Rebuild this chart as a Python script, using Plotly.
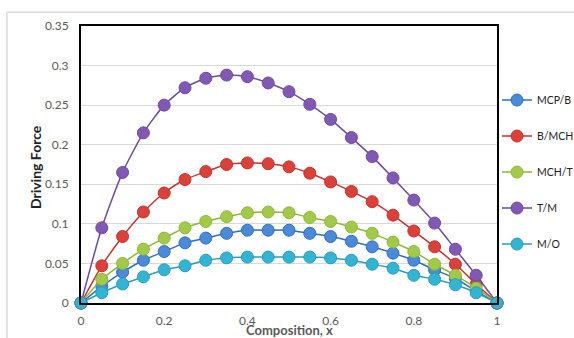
import plotly.graph_objects as go

composition = [0, 0.05, 0.1, 0.15, 0.2, 0.25, 0.3, 0.35, 0.4, 0.45, 0.5,
               0.55, 0.6, 0.65, 0.7, 0.75, 0.8, 0.85, 0.9, 0.95, 1.0]

mcp_b = [0, 0.021, 0.039, 0.054, 0.065, 0.076, 0.082, 0.088, 0.092, 0.092, 0.092,
         0.088, 0.084, 0.078, 0.071, 0.063, 0.054, 0.042, 0.031, 0.015, 0]
b_mch = [0, 0.047, 0.084, 0.115, 0.139, 0.156, 0.166, 0.175, 0.177, 0.176, 0.172,
         0.164, 0.153, 0.141, 0.128, 0.111, 0.091, 0.071, 0.049, 0.024, 0]
mch_t = [0, 0.030, 0.050, 0.068, 0.082, 0.095, 0.103, 0.109, 0.114, 0.115, 0.114,
         0.108, 0.103, 0.096, 0.088, 0.077, 0.065, 0.049, 0.035, 0.019, 0]
t_m = [0, 0.095, 0.165, 0.215, 0.250, 0.272, 0.284, 0.288, 0.286, 0.278, 0.267,
       0.251, 0.232, 0.209, 0.185, 0.158, 0.130, 0.101, 0.068, 0.035, 0]
m_o = [0, 0.013, 0.024, 0.033, 0.042, 0.047, 0.054, 0.057, 0.058, 0.058, 0.058,
       0.058, 0.057, 0.054, 0.049, 0.044, 0.035, 0.030, 0.023, 0.013, 0]

series = [
    ("MCP/B", mcp_b, "#2F6FBF", "#4A8AD8"),
    ("B/MCH", b_mch, "#C8322D", "#D9423B"),
    ("MCH/T", mch_t, "#8DB83A", "#A2C94A"),
    ("T/M", t_m, "#6E4A9E", "#8159B4"),
    ("M/O", m_o, "#2A9DBE", "#33B4D2"),
]

y_ticks = [0, 0.05, 0.1, 0.15, 0.2, 0.25, 0.3, 0.35]
y_tick_labels = ["0", "0.05", "0.1", "0.15", "0.2", "0.25", "0.3", "0.35"]
x_ticks = [0, 0.2, 0.4, 0.6, 0.8, 1]
x_tick_labels = ["0", "0.2", "0.4", "0.6", "0.8", "1"]

fig = go.Figure()
for i, (name, vals, lc, mc) in enumerate(series):
    fig.add_trace(go.Scatter(
        x=composition, y=vals, name=name, mode="lines+markers",
        line=dict(color=lc, width=1.5, shape="spline", smoothing=0.6),
        marker=dict(size=12, color=mc, line=dict(color=lc, width=1)),
        cliponaxis=False, legendgroup=f"g{i}",
    ))

font_family = "Lato, Open Sans, sans-serif"

fig.update_layout(
    width=574, height=338,
    margin=dict(l=81, r=77, t=26, b=35, autoexpand=False),
    paper_bgcolor="white", plot_bgcolor="white",
    showlegend=True,
    legend=dict(x=1.0, y=0.785, xanchor="left", yanchor="top",
                font=dict(family=font_family, size=10.5, color="#222222"),
                tracegroupgap=17, bgcolor="rgba(0,0,0,0)"),
    xaxis=dict(range=[0, 1], tickvals=x_ticks, ticktext=x_tick_labels,
               showgrid=False, zeroline=False, automargin=False,
               showline=True, linecolor="black", linewidth=2, mirror=True,
               tickfont=dict(family=font_family, size=12, color="#595959"),
               ticklabelstandoff=6),
    yaxis=dict(range=[0, 0.35], tickvals=y_ticks, ticktext=y_tick_labels,
               showgrid=True, gridcolor="#D9D9D9", gridwidth=1, zeroline=False,
               automargin=False,
               showline=True, linecolor="black", linewidth=2, mirror=True,
               tickfont=dict(family=font_family, size=12, color="#595959"),
               ticklabelstandoff=8),
    annotations=[
        dict(text="<b>Driving Force</b>", textangle=-90, x=-0.111, y=0.49,
             xref="paper", yref="paper", xanchor="center", yanchor="middle",
             showarrow=False, font=dict(family=font_family, size=14, color="#222222")),
        dict(text="<b>Composition, x</b>", x=0.5, y=-0.097,
             xref="paper", yref="paper", xanchor="center", yanchor="middle",
             showarrow=False, font=dict(family=font_family, size=13, color="#595959")),
    ],
    shapes=[
        dict(type="line", xref="paper", yref="paper", x0=-0.178, x1=1.3, y0=1.05, y1=1.05,
             line=dict(color="#D9D9D9", width=1.5)),
        dict(type="line", xref="paper", yref="paper", x0=-0.178, x1=-0.178, y0=-0.2, y1=1.05,
             line=dict(color="#D9D9D9", width=1.5)),
    ],
)

fig.write_html("out.html", config={"displayModeBar": False},
               post_script="document.body.style.margin='0';document.body.style.overflow='hidden';")
